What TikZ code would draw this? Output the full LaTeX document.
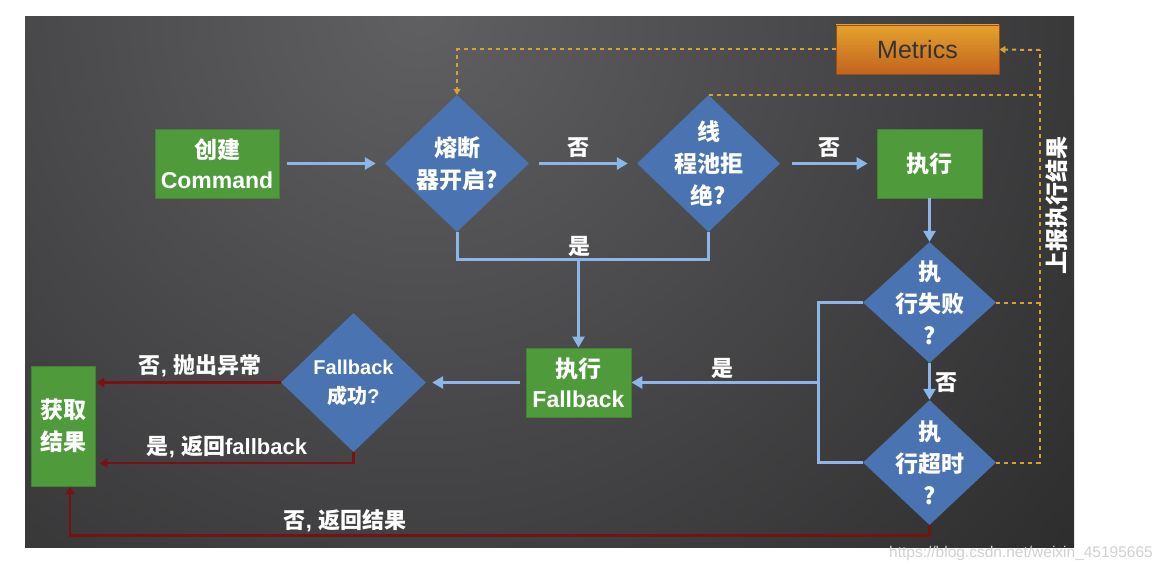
\documentclass[tikz,border=0pt]{standalone}
\usepackage{fontspec}
\setmainfont{Liberation Sans}
\newfontfamily\cjk{Noto Sans CJK SC}
\usetikzlibrary{arrows.meta,shapes.geometric,calc}
\definecolor{gboxc}{HTML}{4F9A3A}
\definecolor{dbluec}{HTML}{4A73B1}
\definecolor{lbluec}{HTML}{8DB6E8}
\definecolor{dredc}{HTML}{7A1010}
\definecolor{orgc}{HTML}{D9A032}
\definecolor{bgA}{HTML}{606062}
\definecolor{bgB}{HTML}{1E1E1F}
\definecolor{metA}{HTML}{E4A22E}
\definecolor{metB}{HTML}{C2631E}
\tikzset{
  gbox/.style={rectangle, fill=gboxc, draw=gboxc!85!black, line width=0.8pt, text=white, inner sep=0pt,
    font=\bfseries\fontsize{23}{30}\selectfont, align=center},
  dia/.style={diamond, fill=dbluec, draw=none, inner sep=0pt},
  dlab/.style={text=white, font=\cjk\bfseries\fontsize{23}{32}\selectfont, align=center},
  blab/.style={text=white, font=\bfseries\fontsize{22}{24}\selectfont},
  barrow/.style={draw=lbluec, line width=3pt, -{Triangle[length=11pt,width=12pt]}},
  bline/.style={draw=lbluec, line width=3pt},
  rarrow/.style={draw=dredc, line width=2.6pt, -{Triangle[length=8pt,width=9pt]}},
  oline/.style={draw=orgc, line width=2pt, dash pattern=on 4pt off 4pt},
}
\begin{document}
\begin{tikzpicture}[x=1pt,y=-1pt]
\useasboundingbox (0,0) rectangle (1165,572);
\fill[white] (0,0) rectangle (1165,572);
\begin{scope}
\clip (25,17) rectangle (1074,547);
\shade[inner color=bgA, outer color=bgB] (420,10) circle (1100);
\end{scope}

% nodes
\node[gbox, minimum width=124pt, minimum height=69pt] (create) at (217,163.5) {{\cjk 创建}\\Command};
\node[dia, minimum width=144pt, minimum height=137pt, label={[dlab]center:熔断\\器开启?}] (d1) at (457,163.5) {};
\node[dia, minimum width=143pt, minimum height=137pt, label={[dlab]center:线\\程池拒\\绝?}] (d2) at (708.5,163.5) {};
\node[gbox, minimum width=105pt, minimum height=69pt] (exec) at (929.5,163.5) {{\cjk 执行}};
\node[rectangle, top color=metA, bottom color=metB, draw=metB!80!black, line width=0.8pt,
      minimum width=163pt, minimum height=49pt, text=black!80, font=\fontsize{25}{28}\selectfont] (met) at (917.5,49.5) {Metrics};
\node[dia, minimum width=133pt, minimum height=121pt, label={[dlab]center:执\\行失败\\?}] (d3) at (929.5,302.5) {};
\node[dia, minimum width=133pt, minimum height=125pt, label={[dlab]center:执\\行超时\\?}] (d4) at (929.5,462.5) {};
\node[gbox, minimum width=105pt, minimum height=69pt] (fb) at (578.5,382.5) {{\cjk 执行}\\Fallback};
\node[dia, minimum width=145pt, minimum height=139pt, label={[dlab, font=\bfseries\fontsize{20}{29}\selectfont]center:Fallback\\{\cjk 成功}?}] (d5) at (353.5,382.5) {};
\node[gbox, minimum width=64pt, minimum height=120pt, font=\cjk\bfseries\fontsize{23}{32}\selectfont] (res) at (63,426) {获取\\结果};

% coordinates
\coordinate (j1) at (578.5,260);
\coordinate (j2) at (818,382.5);
\coordinate (mtop) at (1040,50);

% blue connectors
\draw[barrow, shorten <=8pt, shorten >=9pt] (create) -- (d1);
\draw[barrow, shorten <=10pt, shorten >=9pt] (d1) -- (d2);
\node[blab] (no1) at (578,148) {\cjk 否};
\draw[barrow, shorten <=12pt, shorten >=9pt] (d2) -- (exec);
\node[blab] (no2) at (829,148) {\cjk 否};
\draw[bline] (d1.south) |- (j1) -| (d2.south);
\draw[barrow] (j1) -- (fb.north);
\node[blab] (yes1) at (579,246) {\cjk 是};
\draw[barrow] (exec.south) -- (d3.north);
\draw[barrow] (d3.south) -- (d4.north);
\node[blab] (no3) at (946,383) {\cjk 否};
\draw[bline] (d3.west) -| (j2);
\draw[bline] (d4.west) -| (j2);
\draw[barrow] (j2) -- (fb.east);
\node[blab] (yes2) at (722,368) {\cjk 是};
\draw[barrow, shorten <=6pt, shorten >=6pt] (fb.west) -- (d5.east);

% red connectors
\draw[rarrow, shorten >=1pt] (d5.west) -- (d5.west -| res.east);
\node[blab] (lab1) at (200,366) {{\cjk 否}, {\cjk 抛出异常}};
\draw[rarrow, shorten >=4pt] (d5.south) |- ([yshift=-37pt]res.east);
\node[blab] (lab2) at (227,447) {{\cjk 是}, {\cjk 返回}fallback};
\draw[rarrow] (d4.south) -- ++(0,10) -| ([xshift=7pt]res.south);
\node[blab] (lab3) at (345,521) {{\cjk 否}, {\cjk 返回结果}};

% orange dashed
\draw[oline, -{Triangle[length=6pt,width=7pt]}] (met.west) -| (d1.north);
\draw[oline] (d2.north) -- (d2.north -| mtop);
\draw[oline] (d3.east) -- (d3.east -| mtop);
\draw[oline] (d4.east) -| (mtop);
\draw[oline, -{Triangle[length=6pt,width=7pt]}] (mtop) -- (met.east);
\node[rotate=90, text=white, font=\cjk\bfseries\fontsize{23}{26}\selectfont] (rep) at (1057,205) {上报执行结果};

% watermark
\node[text=black!18, font=\fontsize{15.5}{18}\selectfont] (wm) at (1021,553) {https://blog.csdn.net/weixin\_45195665};
\end{tikzpicture}
\end{document}
